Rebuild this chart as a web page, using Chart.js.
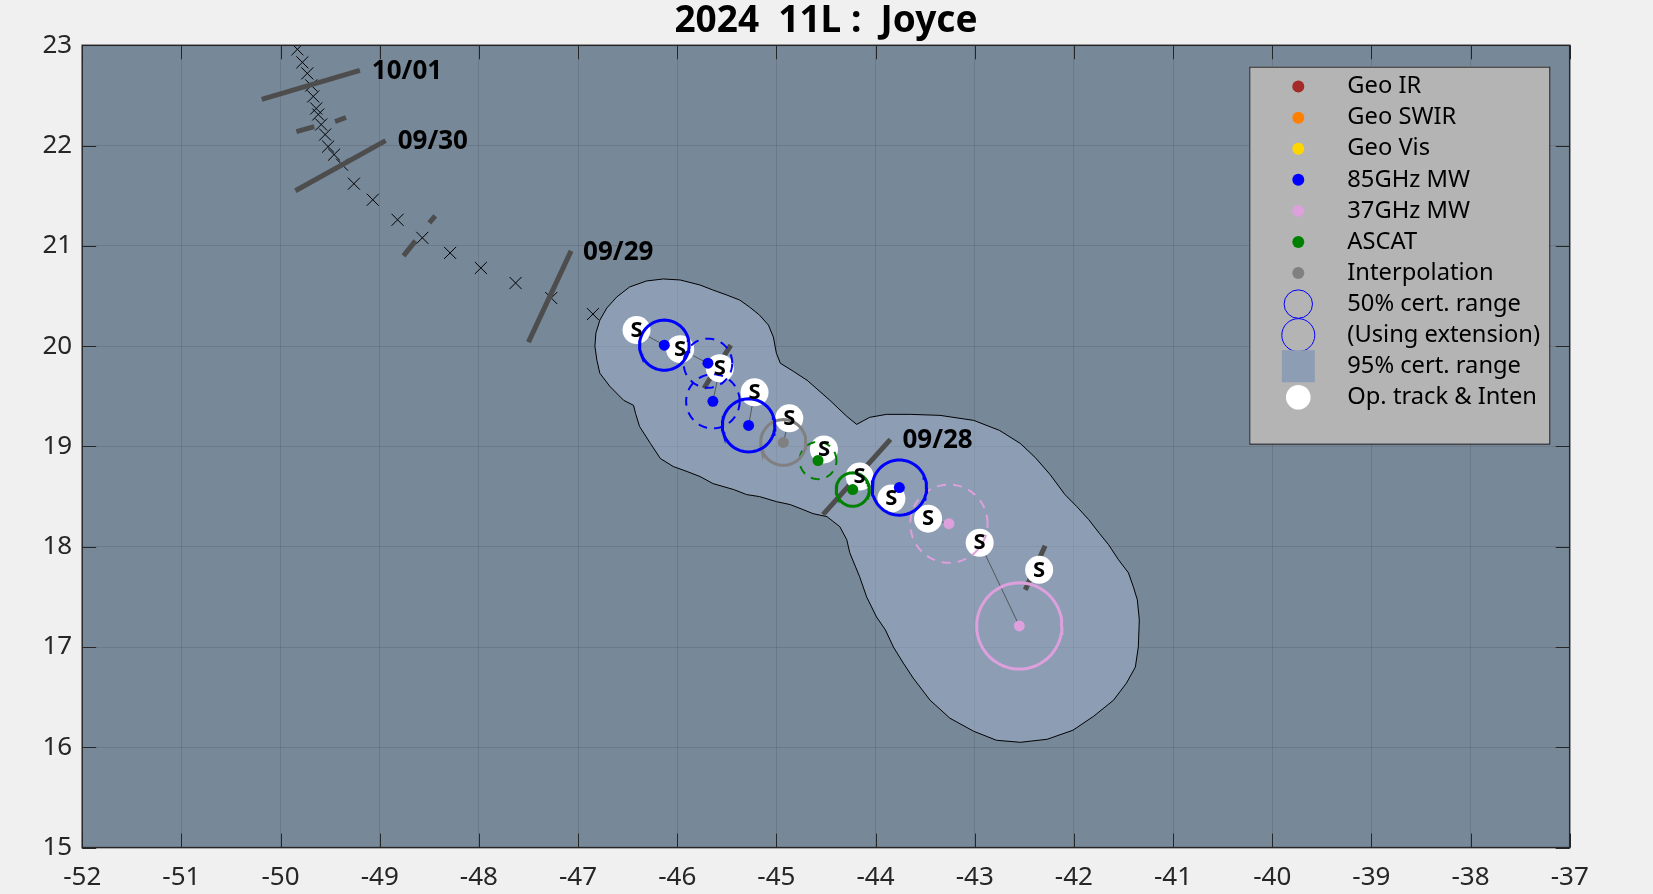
<!DOCTYPE html>
<html>
<head>
<meta charset="utf-8">
<script src="https://cdn.jsdelivr.net/npm/chart.js@4.4.1/dist/chart.umd.min.js"></script>
<style>
    html, body { margin: 0; padding: 0; background: #f0f0f0; }
    canvas { display: block; }
</style>
</head>
<body>
<canvas id="grafico1" width="1653" height="894"></canvas>
<script>
const grafico_trajetoria = document.getElementById('grafico1');

const titulo = '2024  11L :  Joyce';

/* TRAJETÓRIA (x) */

const trilha_lon = [-49.83, -49.78, -49.73, -49.69, -49.67, -49.64, -49.62, -49.59, -49.55, -49.52, -49.46,
    -49.38, -49.26, -49.07, -48.82, -48.57, -48.29, -47.98, -47.63, -47.27, -46.85];
const trilha_lat = [22.96, 22.83, 22.72, 22.60, 22.49, 22.37, 22.31, 22.21, 22.11, 21.99, 21.91,
    21.81, 21.62, 21.46, 21.26, 21.08, 20.93, 20.78, 20.63, 20.48, 20.32];

/* REGIÃO 95% */

const regiao_lon = [-46.83, -46.82, -46.78, -46.71, -46.61, -46.48, -46.31, -46.14, -45.97, -45.77, -45.64,
    -45.50, -45.37, -45.27, -45.17, -45.08, -45.03, -45.00, -44.96, -44.83, -44.69, -44.46, -44.29, -44.19,
    -44.06, -43.89, -43.65, -43.35, -43.01, -42.75, -42.54, -42.39, -42.24, -42.09, -41.97, -41.85, -41.74,
    -41.65, -41.55, -41.45, -41.40, -41.36, -41.34, -41.35, -41.38, -41.47, -41.60, -41.80, -42.01, -42.27,
    -42.54, -42.78, -43.01, -43.25, -43.45, -43.62, -43.72, -43.82, -43.90, -43.99, -44.09, -44.16, -44.26,
    -44.29, -44.36, -44.49, -44.63, -44.73, -44.86, -45.00, -45.17, -45.30, -45.43, -45.64, -45.77, -45.90,
    -46.04, -46.17, -46.27, -46.38, -46.42, -46.44, -46.54, -46.68, -46.78, -46.81];
const regiao_lat = [20.00, 20.13, 20.26, 20.38, 20.49, 20.59, 20.65, 20.67, 20.66, 20.61, 20.56,
    20.51, 20.46, 20.39, 20.31, 20.21, 20.09, 19.93, 19.83, 19.75, 19.66, 19.46, 19.30, 19.22,
    19.29, 19.32, 19.32, 19.31, 19.26, 19.16, 19.03, 18.89, 18.72, 18.52, 18.40, 18.27, 18.13,
    18.02, 17.87, 17.74, 17.60, 17.47, 17.27, 17.00, 16.80, 16.64, 16.47, 16.31, 16.17, 16.08,
    16.05, 16.07, 16.16, 16.29, 16.47, 16.69, 16.84, 17.00, 17.17, 17.30, 17.50, 17.70, 17.94,
    18.07, 18.20, 18.30, 18.33, 18.37, 18.42, 18.45, 18.50, 18.52, 18.57, 18.63, 18.70, 18.75,
    18.80, 18.88, 19.03, 19.20, 19.33, 19.41, 19.46, 19.60, 19.73, 19.86];

/* LINHAS DE DATA */

const linha_lon1 = [-50.19, -49.84, -49.45, -49.85, -48.76, -48.50, -47.50, -45.73, -44.53, -42.49];
const linha_lat1 = [22.46, 22.14, 22.24, 21.55, 20.90, 21.23, 20.04, 19.58, 18.32, 17.57];
const linha_lon2 = [-49.20, -49.66, -49.34, -48.94, -48.64, -48.44, -47.07, -45.46, -43.85, -42.29];
const linha_lat2 = [22.75, 22.19, 22.28, 22.05, 21.05, 21.30, 20.95, 20.01, 19.07, 18.01];

const datas_texto = ['10/01', '09/30', '09/29', '09/28'];
const datas_lon = [-49.20, -48.94, -47.07, -43.85];
const datas_lat = [22.75, 22.05, 20.95, 19.07];

/* TRAJETÓRIA OPERACIONAL (S) */

const op_lon = [-46.41, -45.97, -45.57, -45.22, -44.87, -44.52, -44.16, -43.84, -43.47, -42.95, -42.35];
const op_lat = [20.16, 19.97, 19.78, 19.54, 19.28, 18.97, 18.70, 18.48, 18.28, 18.04, 17.77];
const op_int = ['S', 'S', 'S', 'S', 'S', 'S', 'S', 'S', 'S', 'S', 'S'];

/* FIXES */

const fix_lon = [-46.13, -45.69, -45.64, -45.28, -44.93, -44.58, -44.23, -43.76, -43.26, -42.55];
const fix_lat = [20.01, 19.83, 19.45, 19.21, 19.04, 18.86, 18.57, 18.59, 18.23, 17.21];
const fix_tipo = ['85GHz MW', '85GHz MW', '85GHz MW', '85GHz MW', 'Interpolation', 'ASCAT', 'ASCAT',
    '85GHz MW', '37GHz MW', '37GHz MW'];
const fix_raio = [0.25, 0.245, 0.27, 0.265, 0.228, 0.186, 0.167, 0.275, 0.39, 0.43];
const fix_extensao = [false, true, true, false, false, true, false, false, true, false];
const fix_op = [0, 1, 2, 3, 4, 5, 6, 7, 8, 9];

/* LEGENDA */

const legenda_textos = ['Geo IR', 'Geo SWIR', 'Geo Vis', '85GHz MW', '37GHz MW', 'ASCAT', 'Interpolation',
    '50% cert. range', '(Using extension)', '95% cert. range', 'Op. track & Inten'];

const cores_fix = {
    'Geo IR': '#a52a2a',
    'Geo SWIR': '#ff8000',
    'Geo Vis': '#ffd700',
    '85GHz MW': '#0000ff',
    '37GHz MW': '#dda0dd',
    'ASCAT': '#008000',
    'Interpolation': '#808080'
};

function circulo(lon, lat, r) {
    const pts = [];
    for (let k = 0; k <= 72; k++) {
        const a = k * Math.PI / 36;
        pts.push({ x: lon + r * Math.cos(a), y: lat + r * Math.sin(a) });
    }
    return pts;
}

const datasets = [];

datasets.push({
    label: '95% cert. range',
    data: regiao_lon.map((v, i) => ({ x: v, y: regiao_lat[i] })).concat([{ x: regiao_lon[0], y: regiao_lat[0] }]),
    showLine: true,
    fill: 'shape',
    backgroundColor: 'rgba(166,183,213,0.45)',
    borderColor: '#000000',
    borderWidth: 1,
    pointRadius: 0,
    order: 10
});

datasets.push({
    label: 'trilha',
    data: trilha_lon.map((v, i) => ({ x: v, y: trilha_lat[i] })),
    pointStyle: 'crossRot',
    pointRadius: 8.5,
    borderColor: '#000000',
    backgroundColor: 'transparent',
    borderWidth: 1,
    order: 9
});

linha_lon1.forEach((v, i) => {
    datasets.push({
        label: 'linha' + i,
        data: [{ x: v, y: linha_lat1[i] }, { x: linha_lon2[i], y: linha_lat2[i] }],
        showLine: true,
        borderColor: '#4d4d4d',
        borderWidth: 5,
        pointRadius: 0,
        order: 8
    });
});

fix_lon.forEach((v, i) => {
    const j = fix_op[i];
    datasets.push({
        label: 'conector' + i,
        data: [{ x: v, y: fix_lat[i] }, { x: op_lon[j], y: op_lat[j] }],
        showLine: true,
        borderColor: 'rgba(70,70,70,0.8)',
        borderWidth: 1,
        pointRadius: 0,
        order: 7
    });
});

datasets.push({
    label: 'Op. track & Inten',
    data: op_lon.map((v, i) => ({ x: v, y: op_lat[i] })),
    pointRadius: 14,
    backgroundColor: '#ffffff',
    borderWidth: 0,
    order: 6
});

fix_lon.forEach((v, i) => {
    datasets.push({
        label: 'circulo' + i,
        data: circulo(v, fix_lat[i], fix_raio[i]),
        showLine: true,
        borderColor: cores_fix[fix_tipo[i]],
        borderWidth: fix_extensao[i] ? 2 : 3,
        borderDash: fix_extensao[i] ? [9, 7] : [],
        pointRadius: 0,
        order: 5
    });
});

datasets.push({
    label: 'fixes',
    data: fix_lon.map((v, i) => ({ x: v, y: fix_lat[i] })),
    pointRadius: 5.5,
    backgroundColor: fix_tipo.map(t => cores_fix[t]),
    borderWidth: 0,
    order: 4
});

const fonte = '"Noto Sans", "DejaVu Sans", sans-serif';

const desenho = {
    id: 'desenho',
    beforeDraw(chart) {
        const { ctx, chartArea: a } = chart;
        ctx.save();
        ctx.fillStyle = '#f0f0f0';
        ctx.fillRect(0, 0, chart.width, chart.height);
        ctx.fillStyle = '#778899';
        ctx.fillRect(a.left, a.top, a.right - a.left, a.bottom - a.top);
        ctx.restore();
    },
    afterDatasetsDraw(chart) {
        const { ctx, chartArea: a } = chart;
        const sx = chart.scales.x, sy = chart.scales.y;
        ctx.save();
        ctx.beginPath();
        ctx.rect(a.left, a.top, a.right - a.left, a.bottom - a.top);
        ctx.clip();
        ctx.fillStyle = '#000000';
        ctx.textAlign = 'center';
        ctx.textBaseline = 'middle';
        ctx.font = 'bold 22px ' + fonte;
        op_int.forEach((t, i) => {
            ctx.fillText(t, sx.getPixelForValue(op_lon[i]), sy.getPixelForValue(op_lat[i]) + 0.5);
        });
        ctx.textAlign = 'left';
        ctx.font = 'bold 26px ' + fonte;
        datas_texto.forEach((t, i) => {
            ctx.fillText(t, sx.getPixelForValue(datas_lon[i]) + 12, sy.getPixelForValue(datas_lat[i]) + 1.5);
        });
        ctx.restore();
    },
    afterDraw(chart) {
        const { ctx, chartArea: a } = chart;
        const sx = chart.scales.x, sy = chart.scales.y;
        ctx.save();

        // ticks para dentro
        ctx.strokeStyle = '#262626';
        ctx.lineWidth = 1;
        ctx.beginPath();
        sx.ticks.forEach(t => {
            const px = Math.round(sx.getPixelForValue(t.value)) + 0.5;
            ctx.moveTo(px, a.bottom); ctx.lineTo(px, a.bottom - 14);
            ctx.moveTo(px, a.top); ctx.lineTo(px, a.top + 14);
        });
        sy.ticks.forEach(t => {
            const py = Math.round(sy.getPixelForValue(t.value)) + 0.5;
            ctx.moveTo(a.left, py); ctx.lineTo(a.left + 14, py);
            ctx.moveTo(a.right, py); ctx.lineTo(a.right - 14, py);
        });
        ctx.stroke();
        ctx.lineWidth = 1.5;
        ctx.strokeRect(a.left, a.top, a.right - a.left, a.bottom - a.top);

        // titulo
        ctx.fillStyle = '#000000';
        ctx.font = 'bold 37px ' + fonte;
        ctx.textAlign = 'center';
        ctx.textBaseline = 'alphabetic';
        ctx.fillText(titulo, (a.left + a.right) / 2, 31.5);

        // legenda
        const lx = a.right - 20.4 - 300, ly = a.top + 21.4;
        ctx.fillStyle = '#b4b4b4';
        ctx.fillRect(lx, ly, 300, 377);
        ctx.strokeStyle = '#262626';
        ctx.lineWidth = 1;
        ctx.strokeRect(lx + 0.5, ly + 0.5, 300, 377);
        ctx.font = '23.7px ' + fonte;
        ctx.textAlign = 'left';
        ctx.textBaseline = 'middle';
        legenda_textos.forEach((t, i) => {
            const yy = ly + 19.9 + i * 31.07;
            const xx = lx + 49;
            if (cores_fix[t]) {
                ctx.fillStyle = cores_fix[t];
                ctx.beginPath(); ctx.arc(xx, yy, 6, 0, 2 * Math.PI); ctx.fill();
            } else if (t === '50% cert. range' || t === '(Using extension)') {
                ctx.strokeStyle = '#0000ff';
                ctx.lineWidth = 1;
                ctx.beginPath(); ctx.arc(xx, yy, t === '50% cert. range' ? 14.2 : 16.5, 0, 2 * Math.PI); ctx.stroke();
            } else if (t === '95% cert. range') {
                ctx.fillStyle = '#8c9db4';
                ctx.fillRect(xx - 16.5, yy - 16, 33, 32);
            } else {
                ctx.fillStyle = '#ffffff';
                ctx.beginPath(); ctx.arc(xx, yy, 12.3, 0, 2 * Math.PI); ctx.fill();
            }
            ctx.fillStyle = '#000000';
            ctx.fillText(t, lx + 98, yy);
        });
        ctx.restore();
    }
};

const config_trajetoria = {
    type: 'scatter',
    data: { datasets: datasets },
    options: {
        responsive: false,
        animation: false,
        devicePixelRatio: 1,
        events: [],
        layout: {
            padding: { left: 0, top: 45.3, right: 83.3, bottom: 0 }
        },
        scales: {
            x: {
                type: 'linear',
                min: -52,
                max: -37,
                afterFit: s => { s.height = 46.4; },
                grid: { color: 'rgba(38,38,38,0.15)', drawTicks: false },
                border: { display: false },
                ticks: {
                    stepSize: 1,
                    autoSkip: false,
                    maxRotation: 0,
                    padding: 14.5,
                    color: '#262626',
                    font: { size: 26, family: fonte }
                }
            },
            y: {
                type: 'linear',
                min: 15,
                max: 23,
                afterFit: s => { s.width = 82.2; },
                grid: { color: 'rgba(38,38,38,0.15)', drawTicks: false },
                border: { display: false },
                ticks: {
                    stepSize: 1,
                    autoSkip: false,
                    padding: 10,
                    color: '#262626',
                    font: { size: 26, family: fonte }
                }
            }
        },
        plugins: {
            legend: { display: false },
            tooltip: { enabled: false },
            title: { display: false }
        }
    },
    plugins: [desenho]
};

const grafico = new Chart(grafico_trajetoria, config_trajetoria);
</script>
</body>
</html>
